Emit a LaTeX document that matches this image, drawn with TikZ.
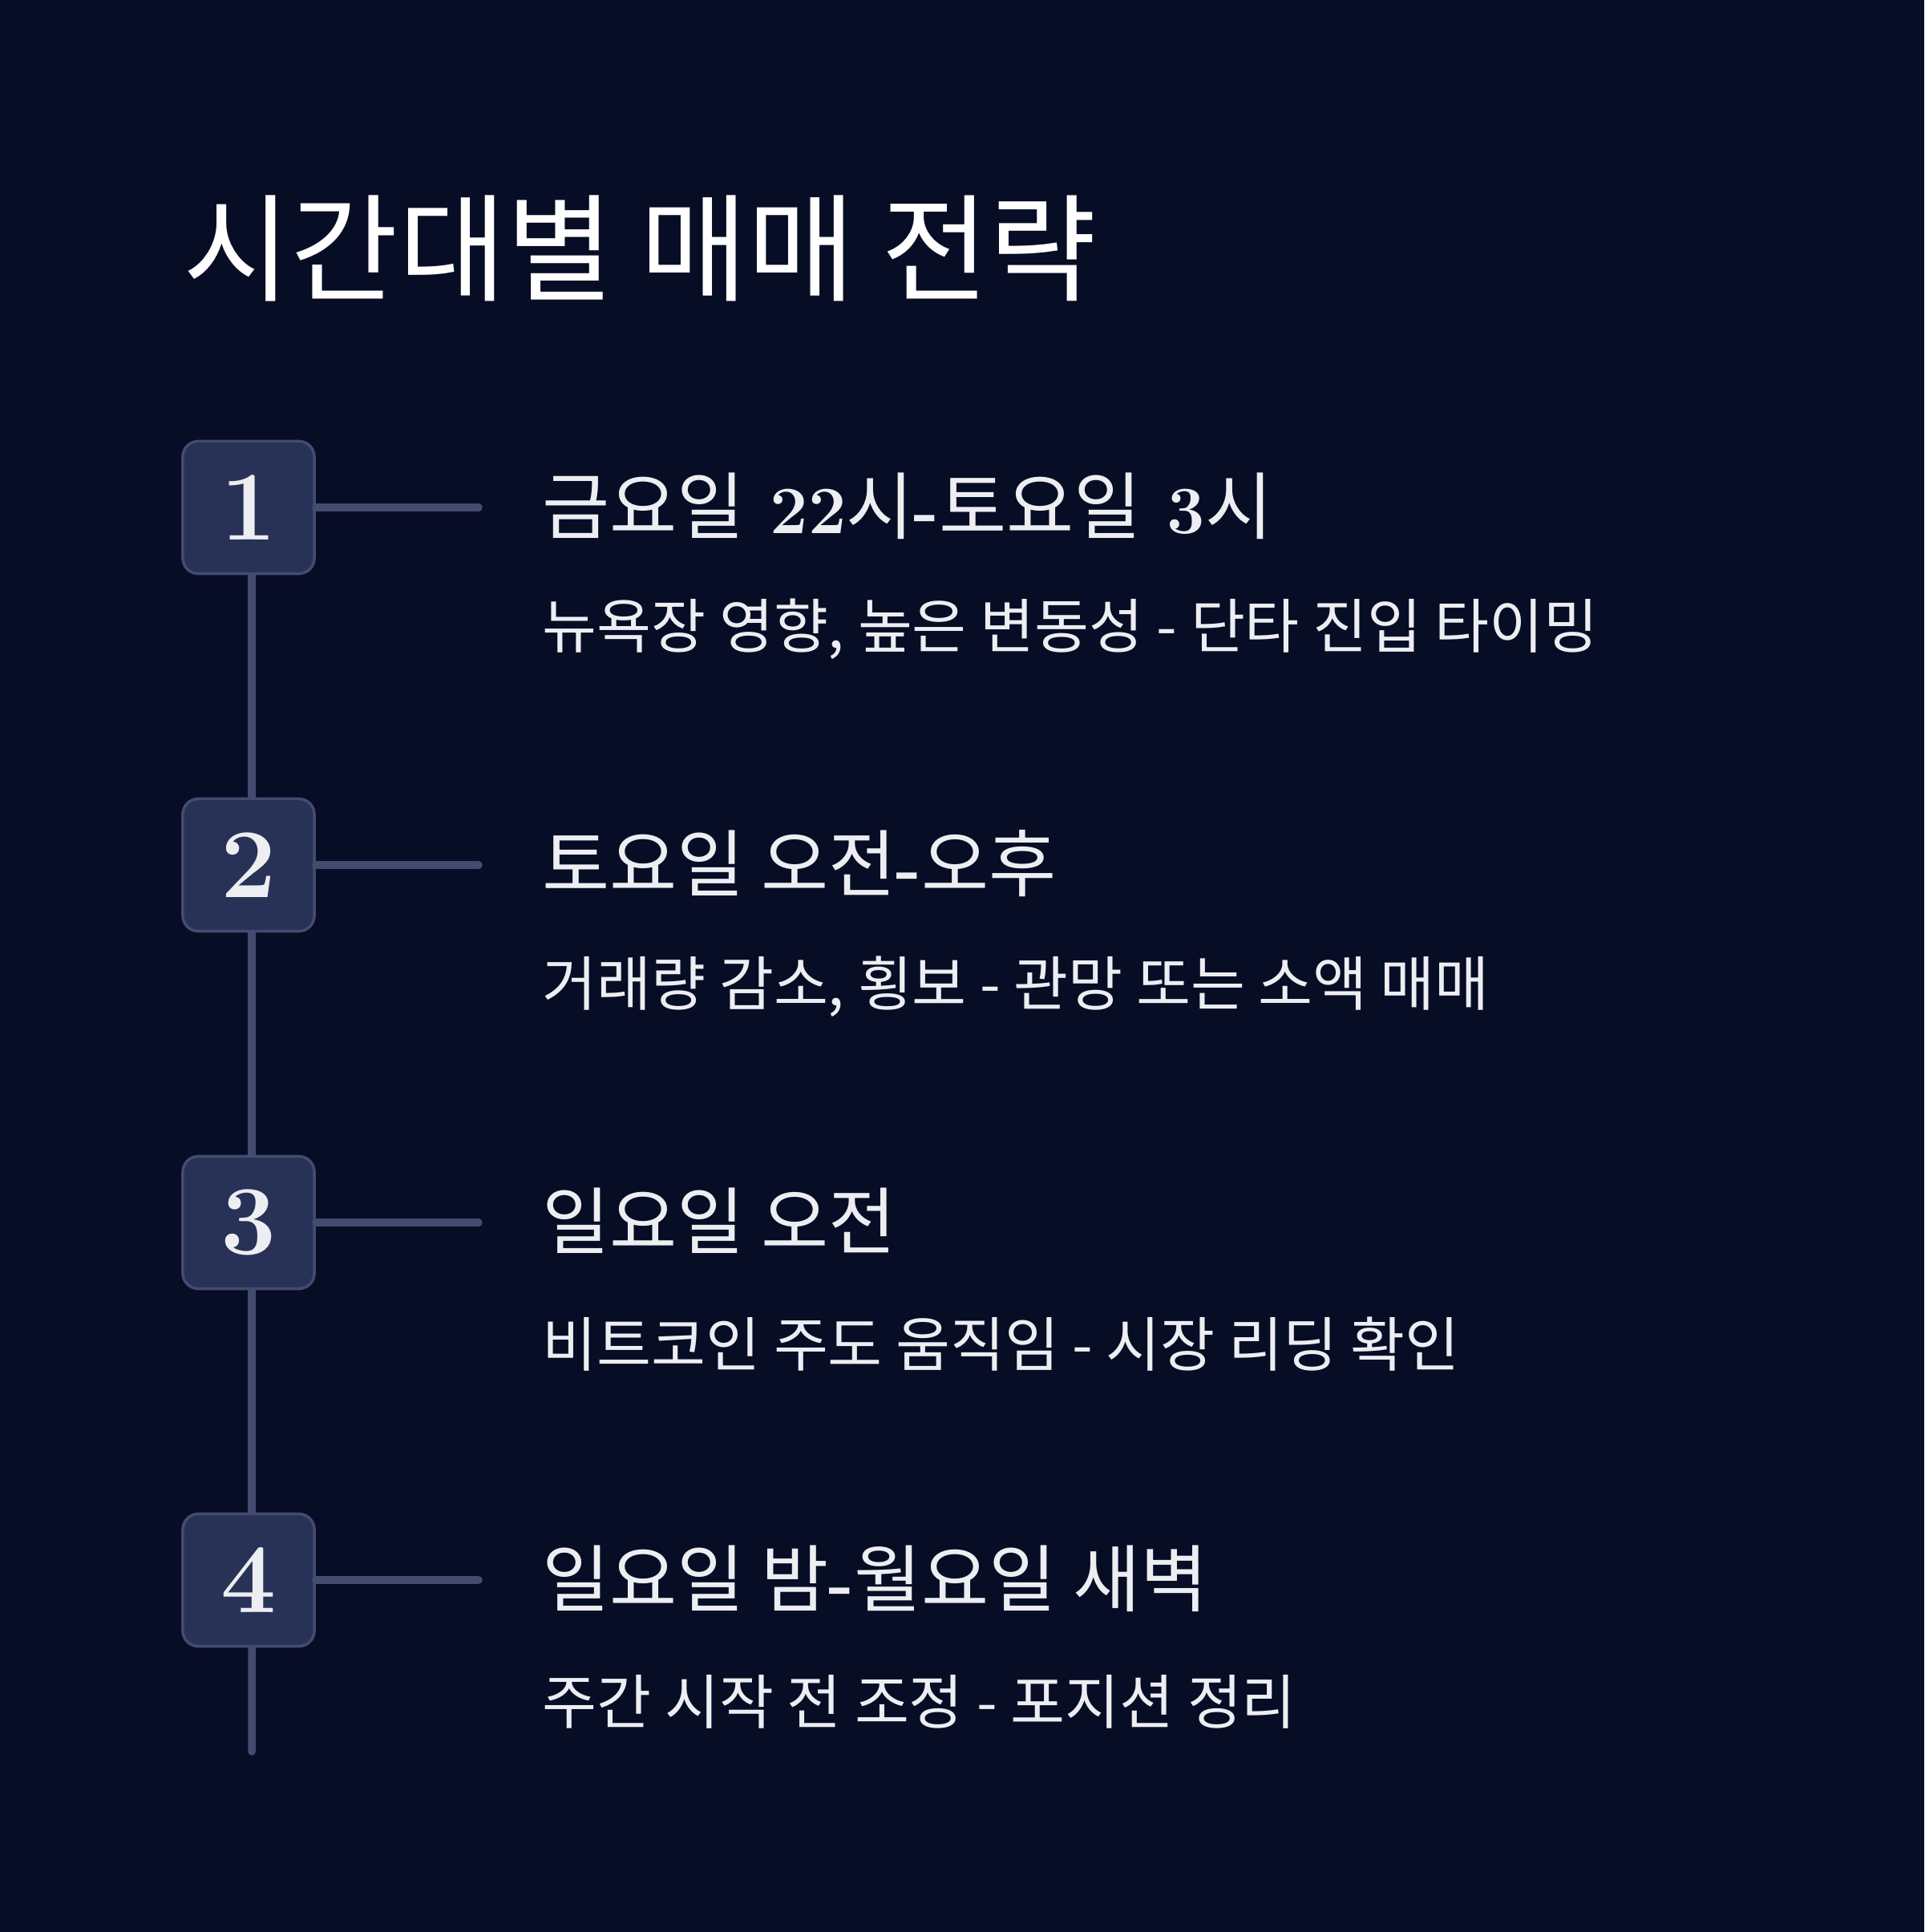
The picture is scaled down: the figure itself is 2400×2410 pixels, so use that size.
\documentclass[tikz,border=0pt]{standalone}
\usepackage{fontspec}
\usepackage{xcolor}
\usetikzlibrary{positioning, backgrounds}
\newfontfamily\krfont{Noto Sans CJK KR}
\newcommand{\kr}[1]{{\krfont\mdseries\fontsize{26}{30}\selectfont #1}}

\pgfdeclarelayer{backdrop}
\pgfsetlayers{backdrop,background,main}

\definecolor{bgnavy}{HTML}{080D26}
\definecolor{boxfill}{HTML}{283257}
\definecolor{linegray}{HTML}{434C70}
\definecolor{textwhite}{HTML}{EDEEF2}

\begin{document}
\begin{tikzpicture}[x=0.01cm, y=-0.01cm,
    numbox/.style={draw=linegray, line width=1pt, fill=boxfill, rounded corners=5.5pt,
        minimum width=1.64cm, minimum height=1.65cm, inner sep=0pt, text=textwhite,
        font=\bfseries\fontsize{35}{35}\selectfont},
    spine/.style={linegray, line width=2.7pt, line cap=round},
    slottitle/.style={anchor=west, inner sep=0pt, text=textwhite,
        font=\bfseries\fontsize{24}{30}\selectfont},
    slotnote/.style={anchor=west, inner sep=0pt, text=textwhite,
        font=\krfont\fontsize{21}{24}\selectfont}]

% ── background and frame ─────────────────────────────────────────
\begin{pgfonlayer}{backdrop}
    \fill[bgnavy] (0, 0) rectangle (2400, 2410);
\end{pgfonlayer}
\useasboundingbox (0, 0) rectangle (2400, 2410);

\node[anchor=west, inner sep=0pt, text=white, font=\krfont\fontsize{41.5}{46}\selectfont]
    (title) at (228, 310) {시간대별 매매 전략};

% ── number boxes ─────────────────────────────────────────────────
\node[numbox] (n1) at (310, 633) {1};
\node[numbox] (n2) at (310, 1079) {2};
\node[numbox] (n3) at (310, 1525) {3};
\node[numbox] (n4) at (310, 1971) {4};
\coordinate (tail) at (314, 2185);

% spine behind the boxes
\begin{scope}[on background layer]
    \draw[spine] ([xshift=0.04cm]n1.south) -- ([xshift=0.04cm]n2.north);
    \draw[spine] ([xshift=0.04cm]n2.south) -- ([xshift=0.04cm]n3.north);
    \draw[spine] ([xshift=0.04cm]n3.south) -- ([xshift=0.04cm]n4.north);
    \draw[spine] ([xshift=0.04cm]n4.south) -- (tail);
\end{scope}

% ── slot 1 ───────────────────────────────────────────────────────
\coordinate (e1) at (597, 633);
\draw[spine] (n1.east) -- (e1);
\node[slottitle] (t1) at (676, 631) {\kr{금요일} 22\kr{시}-\kr{토요일} 3\kr{시}};
\node[slotnote] (d1) at (676, 785) {뉴욕장 영향, 높은 변동성 - 단타 진입 타이밍};

% ── slot 2 ───────────────────────────────────────────────────────
\coordinate (e2) at (597, 1079);
\draw[spine] (n2.east) -- (e2);
\node[slottitle] (t2) at (676, 1077) {\kr{토요일 오전}-\kr{오후}};
\node[slotnote] (d2) at (676, 1231) {거래량 감소, 횡보 - 관망 또는 소액 매매};

% ── slot 3 ───────────────────────────────────────────────────────
\coordinate (e3) at (597, 1525);
\draw[spine] (n3.east) -- (e3);
\node[slottitle] (t3) at (676, 1523) {\kr{일요일 오전}};
\node[slotnote] (d3) at (676, 1677) {비트코인 주도 움직임 - 시장 리딩 확인};

% ── slot 4 ───────────────────────────────────────────────────────
\coordinate (e4) at (597, 1971);
\draw[spine] (n4.east) -- (e4);
\node[slottitle] (t4) at (676, 1969) {\kr{일요일 밤}-\kr{월요일 새벽}};
\node[slotnote] (d4) at (676, 2123) {주간 시작 전 조정 - 포지션 정리};

\end{tikzpicture}
\end{document}
